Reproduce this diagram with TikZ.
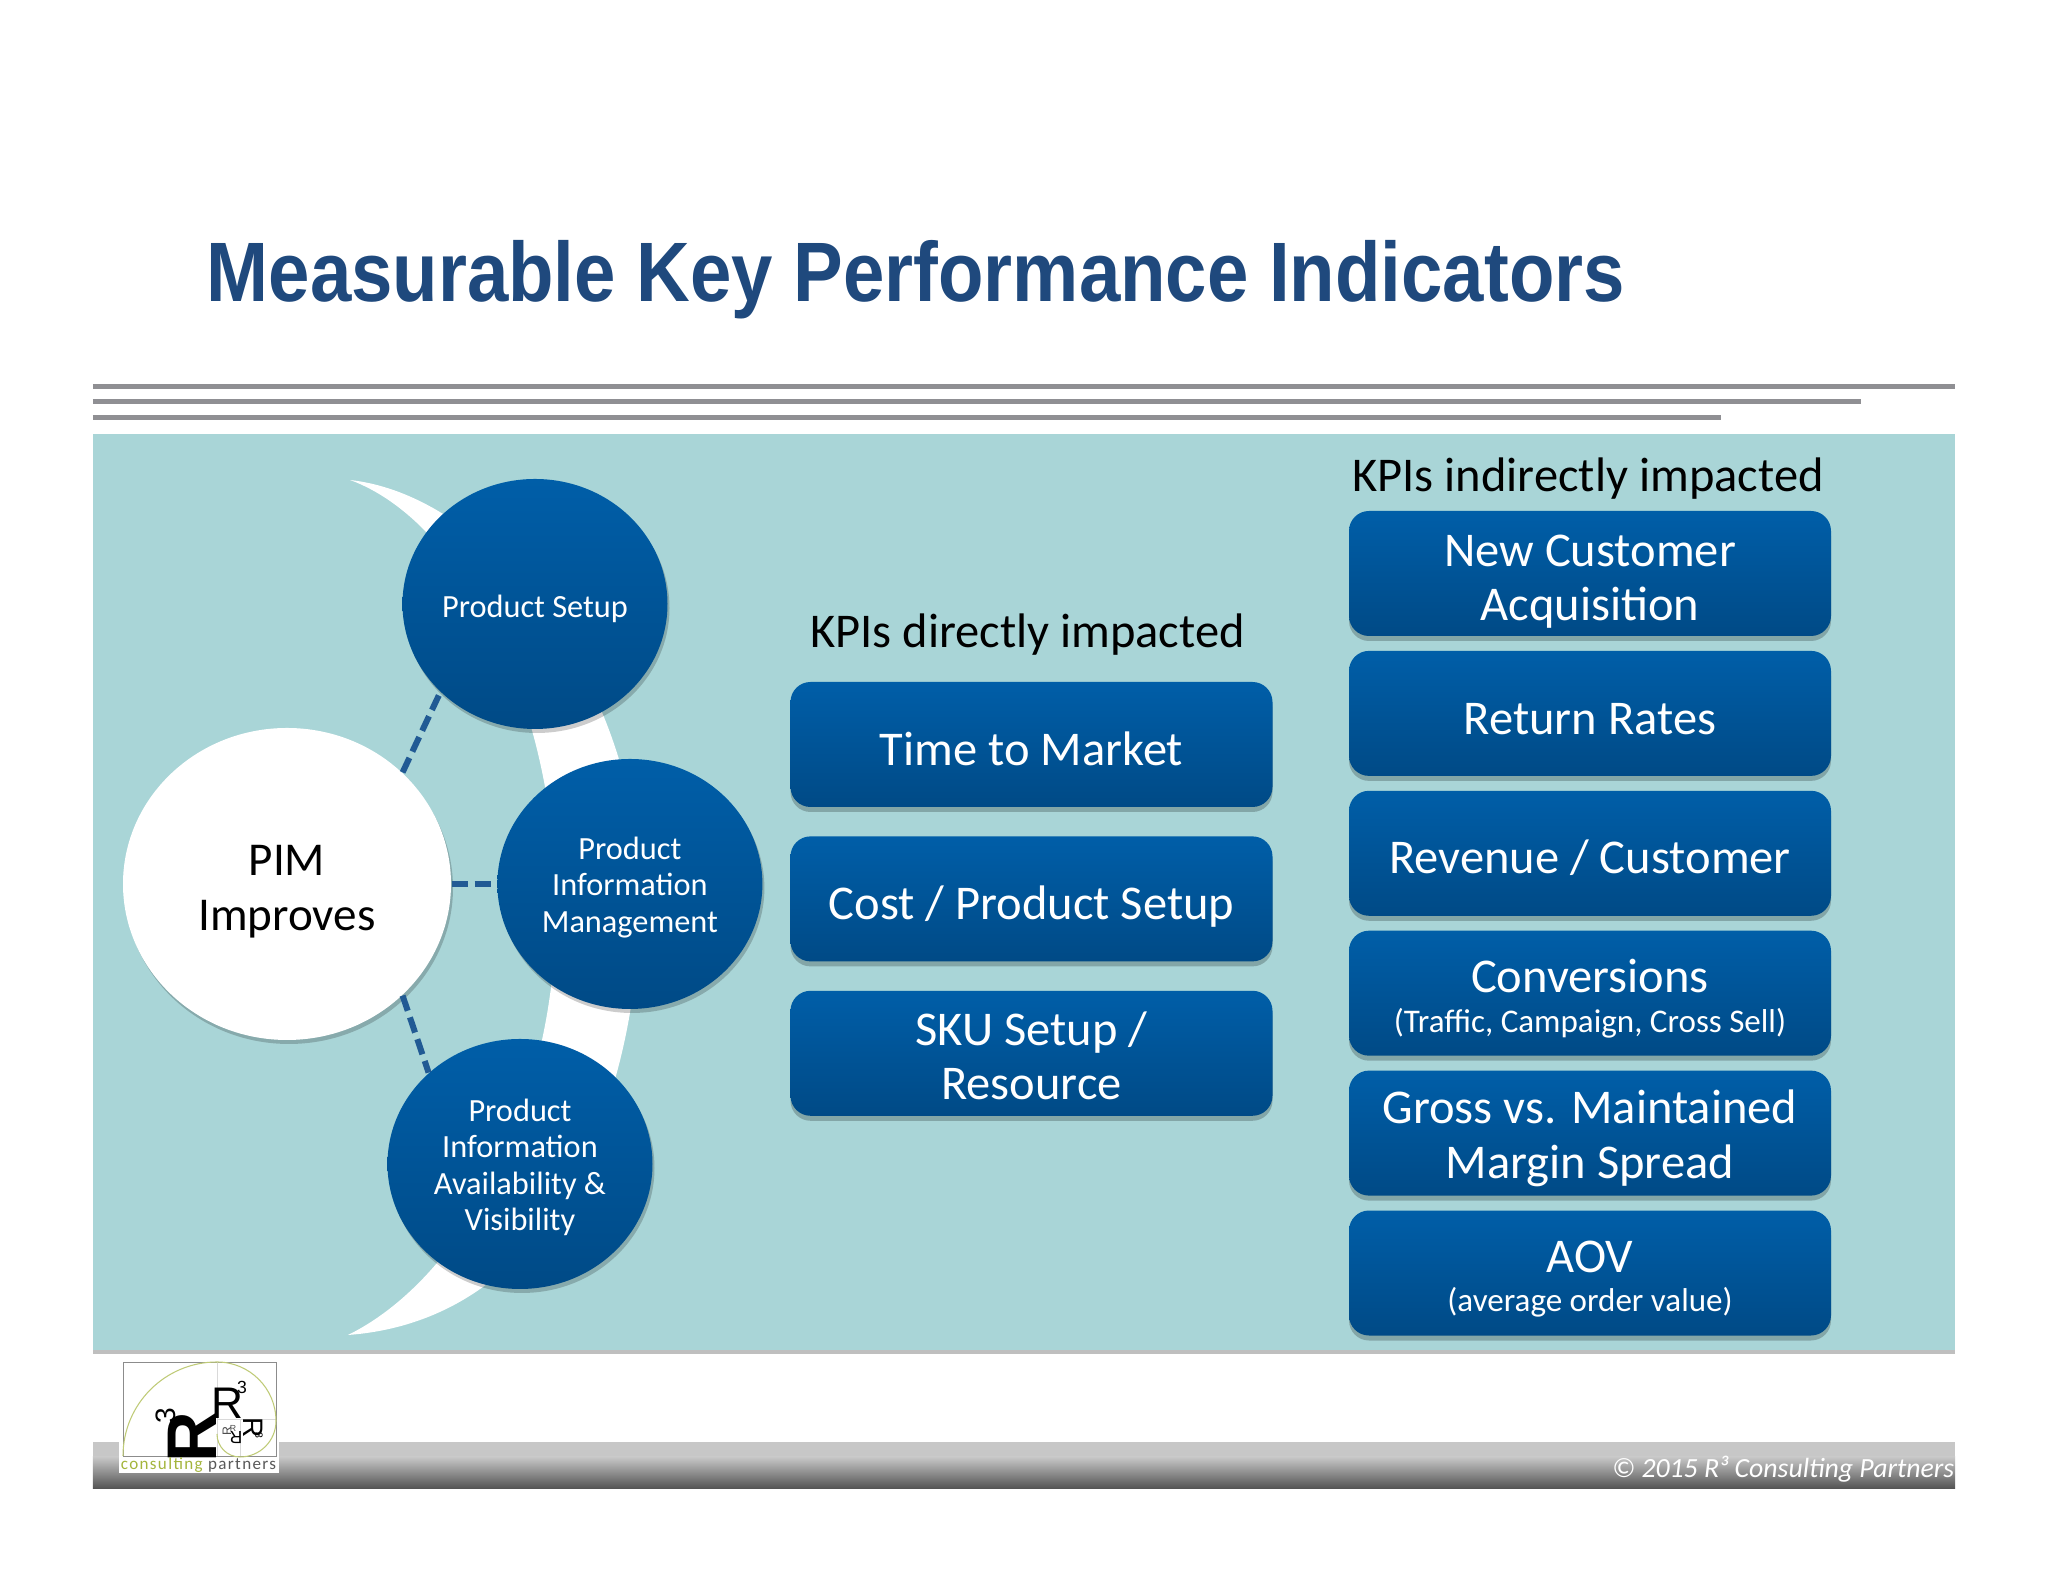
\documentclass[tikz,border=0pt]{standalone}
\usepackage{fontspec}
\setmainfont{Carlito}
\newfontfamily\titlefont[FakeStretch=0.882]{Liberation Sans}
\newfontfamily\logofont{Liberation Sans}
\usetikzlibrary{arrows.meta, positioning, shapes.geometric, shadows}

\definecolor{panelteal}{HTML}{A9D5D7}
\definecolor{barline}{HTML}{8F8F93}
\definecolor{titleblue}{HTML}{1F497D}
\definecolor{kpitop}{HTML}{005EA8}
\definecolor{kpibottom}{HTML}{004A86}
\definecolor{linkblue}{HTML}{215A94}
\definecolor{logogreen}{HTML}{A4B53C}

% Text block set a little lower inside its node
\newcommand{\lowertext}[2]{\raisebox{-#1}[\height][\depth]{\begin{tabular}{@{}c@{}}#2\end{tabular}}}

\begin{document}
\begin{tikzpicture}[
	% Boxes and circles
	kpibox/.style={
		rectangle,
		top color=kpitop,
		bottom color=kpibottom,
		text=white,
		rounded corners=0.2cm,
		minimum width=4.82cm,
		minimum height=1.25cm,
		align=center,
		inner sep=0pt,
		font=\fontsize{13.8}{15.4}\selectfont,
		execute at begin node={\rule{0pt}{12pt}},
		drop shadow={shadow xshift=0cm, shadow yshift=-0.05cm, opacity=0.22, fill=black}
	},
	kpitwo/.style={kpibox, execute at begin node={}},
	topic/.style={
		ellipse,
		top color=kpitop,
		bottom color=kpibottom,
		text=white,
		minimum width=2.65cm,
		minimum height=2.5cm,
		align=center,
		inner sep=0pt,
		font=\fontsize{9.2}{10.4}\selectfont,
		execute at begin node={\rule{0pt}{9pt}},
		drop shadow={shadow xshift=0.02cm, shadow yshift=-0.04cm, opacity=0.2, fill=black}
	},
	topicmany/.style={topic, execute at begin node={}},
	heading/.style={font=\fontsize{13.8}{15.4}\selectfont, text=black, inner sep=0pt},
	% Dashed links
	link/.style={draw=linkblue, line width=0.06cm, dash pattern=on 0.16cm off 0.07cm},
	rule/.style={draw=barline, line width=0.05cm},
	logor/.style={inner sep=0pt, text=black}
	]

	\useasboundingbox (0,0) rectangle (20.48,15.82);
	\fill[white] (0,0) rectangle (20.48,15.82);

	% Title and rules
	\node[anchor=west, inner sep=0pt, text=titleblue, font=\titlefont\bfseries\fontsize{24}{28}\selectfont] (title) at (2.06,13.02) {Measurable Key Performance Indicators};
	\draw[rule] (0.93,11.95) -- (19.55,11.95);
	\draw[rule] (0.93,11.80) -- (18.61,11.80);
	\draw[rule] (0.93,11.64) -- (17.21,11.64);

	% Panel
	\fill[black!25] (0.93,2.28) rectangle (19.55,2.34);
	\fill[panelteal] (0.93,2.32) rectangle (19.55,11.48);

	% Footer
	\fill[black!22] (0.93,1.25) rectangle (19.55,1.40);
	\shade[top color=black!22, bottom color=black!68] (0.93,0.93) rectangle (19.55,1.25);
	\node[anchor=east, inner sep=0pt, text=white, font=\itshape\fontsize{7.9}{10}\selectfont] (copyright) at (19.55,1.13) {© 2015 R³ Consulting Partners};

	% Crescent behind the circles
	\fill[white] (3.50,11.02) .. controls (5.00,10.85) and (6.45,8.82) .. (6.40,6.74)
		.. controls (6.35,4.72) and (5.50,2.62) .. (3.48,2.47)
		.. controls (4.60,3.02) and (5.56,4.72) .. (5.56,6.74)
		.. controls (5.56,8.82) and (4.60,10.62) .. (3.50,11.02) -- cycle;

	% Circles
	\node[ellipse, fill=white, text=black, minimum width=3.28cm, minimum height=3.12cm, align=center, inner sep=0pt,
		font=\fontsize{13.4}{15.6}\selectfont,
		drop shadow={shadow xshift=0.02cm, shadow yshift=-0.04cm, opacity=0.2, fill=black}] (pim) at (2.87,6.98) {\lowertext{2.2pt}{PIM\\Improves}};
	\node[topic] (setup) at (5.35,9.78) {Product Setup};
	\node[topicmany, right=0.45cm of pim] (manage) {\lowertext{1.3pt}{Product\\Information\\Management}};
	\node[topicmany] (avail) at (5.20,4.18) {\lowertext{1.3pt}{Product\\Information\\Availability \&\\Visibility}};

	\draw[link] (pim.44) -- (setup.223);
	\draw[link] (pim.east) -- (manage.west);
	\draw[link] (pim.-44) -- (avail.135);

	% KPIs directly impacted
	\node[kpibox] (market) at (10.315,8.375) {Time to Market};
	\node[kpitwo, below=0.28cm of market] (cost) {\lowertext{2.4pt}{Cost / Product Setup}};
	\node[kpitwo, below=0.28cm of cost] (sku) {\lowertext{2.4pt}{SKU Setup /\\Resource}};
	\node[heading, above=0.25cm of market, xshift=-0.04cm] (direct) {KPIs directly impacted};

	% KPIs indirectly impacted
	\node[kpitwo] (customer) at (15.90,10.085) {\lowertext{2.5pt}{New Customer\\Acquisition}};
	\node[kpibox, below=0.135cm of customer] (returns) {Return Rates};
	\node[kpibox, below=0.135cm of returns] (revenue) {Revenue / Customer};
	\node[kpitwo, below=0.135cm of revenue] (convert) {\lowertext{2.4pt}{Conversions\\[-4.2pt]{\fontsize{9.4}{11}\selectfont (Traffic, Campaign, Cross Sell)}}};
	\node[kpitwo, below=0.135cm of convert] (margin) {\lowertext{2pt}{Gross vs. Maintained\\Margin Spread}};
	\node[kpitwo, below=0.135cm of margin] (aov) {\lowertext{2.4pt}{AOV\\[-4.2pt]{\fontsize{9.4}{11}\selectfont (average order value)}}};
	\node[heading, above=0.1cm of customer, xshift=-0.02cm] (indirect) {KPIs indirectly impacted};

	% Logo
	\fill[white] (1.19,1.09) rectangle (2.79,2.23);
	\draw[black!45, line width=0.2pt, fill=white] (1.23,1.26) rectangle (2.76,2.20);
	\draw[black!15, line width=0.2pt] (2.17,1.26) -- (2.17,2.20) (2.17,1.63) -- (2.76,1.63) (2.40,1.26) -- (2.40,1.63);
	\draw[logogreen!70, line width=0.3pt] (1.23,1.26) arc[start angle=180, end angle=90, radius=0.94]
		arc[start angle=90, end angle=0, radius=0.59]
		arc[start angle=0, end angle=-90, radius=0.36]
		arc[start angle=-90, end angle=-180, radius=0.23];
	\node[logor, rotate=90, font=\logofont\bfseries\fontsize{20}{20}\selectfont] (bigr) at (1.92,1.45) {R};
	\node[logor, rotate=90, font=\logofont\fontsize{8}{8}\selectfont] (bigthree) at (1.66,1.66) {3};
	\node[logor, font=\logofont\fontsize{12.6}{12.6}\selectfont] (midr) at (2.27,1.79) {R};
	\node[logor, font=\logofont\fontsize{5}{5}\selectfont] (midthree) at (2.42,1.95) {3};
	\node[logor, rotate=-90, font=\logofont\fontsize{8}{8}\selectfont] (lowr) at (2.53,1.54) {R};
	\node[logor, rotate=-90, font=\logofont\fontsize{3}{3}\selectfont] (lowthree) at (2.59,1.47) {3};
	\node[logor, rotate=180, font=\logofont\fontsize{5}{5}\selectfont] (tinyr) at (2.36,1.44) {R};
	\node[logor, rotate=90, text=black!70, font=\logofont\fontsize{3.5}{3.5}\selectfont] (tinyl) at (2.27,1.51) {R};
	\node[logor, text=black!70, font=\logofont\fontsize{2.5}{2.5}\selectfont] (tinyu) at (2.33,1.54) {R};
	\node[inner sep=0pt, font=\fontsize{4.85}{6}\selectfont\addfontfeature{LetterSpace=8}] (brand) at (1.985,1.17) {\textcolor{logogreen}{consulting} \textcolor{black!65}{partners}};
\end{tikzpicture}
\end{document}
